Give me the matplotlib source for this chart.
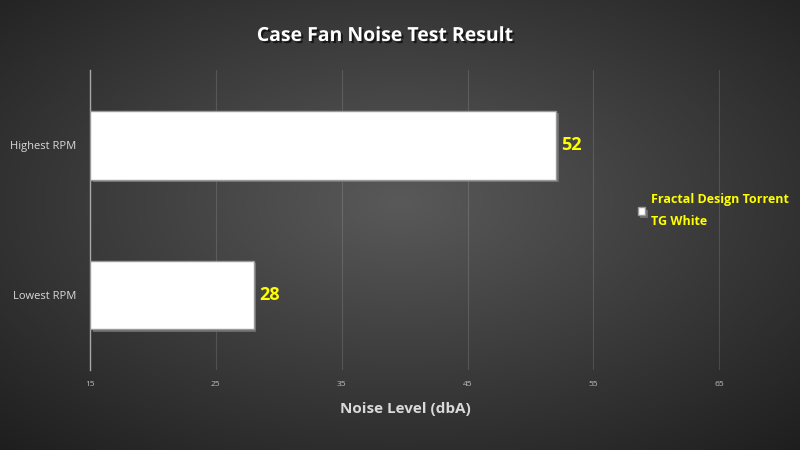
import matplotlib
matplotlib.use("Agg")
import matplotlib.pyplot as plt
import matplotlib.patheffects as pe
import numpy as np

# data
categories = ["Lowest RPM", "Highest RPM"]
noise_dba = [28, 52]
series_name = "Fractal Design Torrent\nTG White"
x_ticks = [15, 25, 35, 45, 55, 65]

plt.rcParams["font.family"] = ["Open Sans", "DejaVu Sans"]

fig = plt.figure(figsize=(8, 4.5), dpi=100)

# radial gradient background
bg = fig.add_axes([0, 0, 1, 1], zorder=-10)
gx, gy = np.meshgrid(np.linspace(-1, 1, 400), np.linspace(-1, 1, 225))
r = np.sqrt(gx ** 2 + (gy + 0.1) ** 2) / np.sqrt(2)
shade = 0.35 - 0.22 * r
bg.imshow(np.dstack([shade, shade, shade]), aspect="auto", extent=[0, 1, 0, 1])
bg.axis("off")

ax = fig.add_axes([0.1125, 0.178, 0.7875, 0.666])
ax.patch.set_alpha(0)

y = np.arange(len(categories))
base = x_ticks[0]
bars = ax.barh(y, [v - base for v in noise_dba], left=base, height=0.46,
               color="white", edgecolor="#9a9a9a", linewidth=1.0, zorder=3)
for b in bars:
    b.set_path_effects([pe.SimplePatchShadow(offset=(2, -2), shadow_rgbFace="#707070", alpha=0.9),
                        pe.Normal()])

for yi, v in zip(y, noise_dba):
    ax.text(v + 0.45, yi, f"{v}", color="#ffff00", fontsize=13, fontweight="bold",
            va="center", ha="left", zorder=4)

ax.set_xlim(x_ticks[0], x_ticks[-1] + 0.05)
ax.set_ylim(-0.5, len(categories) - 0.5)
ax.set_xticks(x_ticks)
ax.set_yticks(y)
ax.set_yticklabels(categories, color="#d9d9d9", fontsize=8)
ax.tick_params(axis="x", colors="#bfbfbf", labelsize=6, length=0, pad=8)
ax.tick_params(axis="y", length=0, pad=10)
ax.grid(axis="x", color="white", alpha=0.13, linewidth=0.8, zorder=0)
for s in ["top", "right", "bottom"]:
    ax.spines[s].set_visible(False)
ax.spines["left"].set_color("#a8a8a8")
ax.spines["left"].set_linewidth(1.0)

ax.set_xlabel("Noise Level (dbA)", color="#d9d9d9", fontsize=11, fontweight="bold", labelpad=10)

fig.text(0.482, 0.92, "Case Fan Noise Test Result", color="white", fontsize=14,
         fontweight="bold", ha="center", va="center",
         path_effects=[pe.withSimplePatchShadow(offset=(1.5, -1.5), shadow_rgbFace="black", alpha=0.6)])

leg = fig.legend([bars[0]], [series_name], loc="center left",
                 bbox_to_anchor=(0.783, 0.532), frameon=False, handlelength=0.6,
                 handleheight=0.6, handletextpad=0.45,
                 prop={"weight": "bold", "size": 9})
for t in leg.get_texts():
    t.set_color("#ffff00")
    t.set_linespacing(1.9)

fig.savefig("out.png", dpi=100)
